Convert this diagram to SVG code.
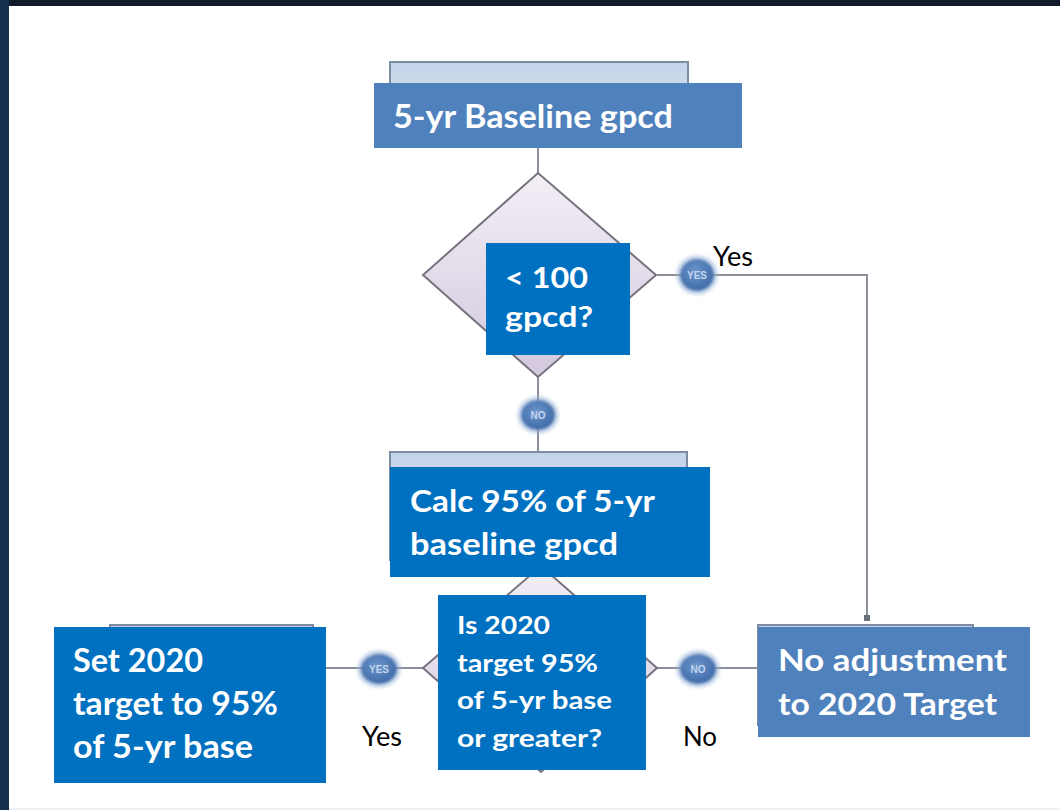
<svg xmlns="http://www.w3.org/2000/svg" width="1060" height="810" viewBox="0 0 1060 810">
<defs>
<linearGradient id="boxg" x1="0" y1="0" x2="0" y2="1"><stop offset="0" stop-color="#c4d3e8"/><stop offset="1" stop-color="#e4ebf5"/></linearGradient>
<linearGradient id="diag" x1="0" y1="0" x2="0" y2="1"><stop offset="0" stop-color="#f3eff6"/><stop offset="1" stop-color="#d3c8dd"/></linearGradient>
<radialGradient id="circg" cx="0.45" cy="0.4" r="0.6"><stop offset="0" stop-color="#6f97cc"/><stop offset="1" stop-color="#3b68a6"/></radialGradient>
<filter id="glow" x="-50%" y="-50%" width="200%" height="200%"><feGaussianBlur stdDeviation="1.5"/></filter>
<marker id="dot" markerWidth="6" markerHeight="6" refX="3" refY="3" markerUnits="userSpaceOnUse"><rect x="0" y="0" width="6" height="6" fill="#6a707a"/></marker>
</defs>
<style>
.frame{fill:#111a2a}
.bg{fill:#ffffff}
.obox{fill:url(#boxg);stroke:#7d8ca3;stroke-width:2}
.odia{fill:url(#diag);stroke:#76737f;stroke-width:2}
.conn{fill:none;stroke:#8a9099;stroke-width:2}
.halo{fill:#9fb8dc;opacity:0.5;filter:url(#glow)}
.circ{fill:url(#circg);filter:url(#glow)}
.ctext{font-family:"Liberation Sans",sans-serif;font-size:10px;font-weight:bold;fill:#c3d5ee;text-anchor:middle}
.lb{fill:#4f81bd}
.db{fill:#0070c0}
.t{font-family:Lato,"Open Sans",sans-serif;font-weight:bold;fill:#ffffff}
.lbl{font-family:Lato,"Open Sans",sans-serif;font-size:26px;fill:#000000}
</style>
<rect class="frame" x="0" y="0" width="1060" height="810"/>
<rect x="0" y="0" width="9" height="810" fill="#16304f"/>
<rect class="bg" x="9" y="6" width="1051" height="804"/>
<rect x="9" y="808" width="1051" height="2" fill="#eef1f5"/>

<g id="connectors">
<path class="conn" d="M538 146 V173"/>
<path class="conn" d="M657 275 H867 V618" marker-end="url(#dot)"/>
<path class="conn" d="M538 377 V452"/>
<path class="conn" d="M313 668 H423"/>
<path class="conn" d="M657 668 H758"/>
</g>

<g id="orig-box-a"><rect class="obox" x="390" y="62" width="298" height="84"/></g>
<g id="orig-box-b"><rect class="obox" x="390" y="452" width="297" height="108"/></g>
<g id="orig-box-c"><rect class="obox" x="110" y="625" width="203" height="100"/></g>
<g id="orig-box-d"><rect class="obox" x="758" y="625" width="215" height="100"/></g>
<g id="orig-diamond-1"><polygon class="odia" points="538,173 656,275 538,377 423,275"/></g>
<g id="orig-diamond-2"><polygon class="odia" points="541,566 657,668 541,772 423,668"/></g>

<g id="yes-circle-1"><ellipse class="halo" cx="697" cy="275" rx="21" ry="20"/><ellipse class="circ" cx="697" cy="275" rx="17" ry="16"/><text class="ctext" x="697" y="279">YES</text></g>
<g id="no-circle-1"><ellipse class="halo" cx="538" cy="415" rx="21" ry="19"/><ellipse class="circ" cx="538" cy="415" rx="17" ry="15"/><text class="ctext" x="538" y="419">NO</text></g>
<g id="yes-circle-2"><ellipse class="halo" cx="379" cy="669" rx="22" ry="19"/><ellipse class="circ" cx="379" cy="669" rx="18" ry="15"/><text class="ctext" x="379" y="673">YES</text></g>
<g id="no-circle-2"><ellipse class="halo" cx="698" cy="669" rx="22" ry="19"/><ellipse class="circ" cx="698" cy="669" rx="18" ry="15"/><text class="ctext" x="698" y="673">NO</text></g>

<g id="baseline">
<rect class="lb" x="374" y="83" width="368" height="65"/>
<text class="t" x="393" y="128" font-size="32" textLength="280" lengthAdjust="spacingAndGlyphs">5-yr Baseline gpcd</text>
</g>
<g id="lt100">
<rect class="db" x="486" y="243" width="144" height="112"/>
<text class="t" x="505" y="288" font-size="29" textLength="83" lengthAdjust="spacingAndGlyphs">&lt; 100</text>
<text class="t" x="505" y="327" font-size="29" textLength="88" lengthAdjust="spacingAndGlyphs">gpcd?</text>
</g>
<g id="calc95">
<rect class="db" x="390" y="467" width="320" height="110"/>
<text class="t" x="410" y="512" font-size="30" textLength="245" lengthAdjust="spacingAndGlyphs">Calc 95% of 5-yr</text>
<text class="t" x="410" y="555" font-size="30" textLength="208" lengthAdjust="spacingAndGlyphs">baseline gpcd</text>
</g>
<g id="is2020">
<rect class="db" x="438" y="595" width="208" height="175"/>
<text class="t" x="457" y="634" font-size="25" textLength="93" lengthAdjust="spacingAndGlyphs">Is 2020</text>
<text class="t" x="457" y="672" font-size="25" textLength="141" lengthAdjust="spacingAndGlyphs">target 95%</text>
<text class="t" x="457" y="709" font-size="25" textLength="155" lengthAdjust="spacingAndGlyphs">of 5-yr base</text>
<text class="t" x="457" y="747" font-size="25" textLength="145" lengthAdjust="spacingAndGlyphs">or greater?</text>
</g>
<g id="set2020">
<rect class="db" x="54" y="627" width="272" height="156"/>
<text class="t" x="73" y="672" font-size="32" textLength="130" lengthAdjust="spacingAndGlyphs">Set 2020</text>
<text class="t" x="73" y="715" font-size="32" textLength="205" lengthAdjust="spacingAndGlyphs">target to 95%</text>
<text class="t" x="73" y="758" font-size="32" textLength="180" lengthAdjust="spacingAndGlyphs">of 5-yr base</text>
</g>
<g id="noadjust">
<rect class="lb" x="758" y="627" width="272" height="110"/>
<text class="t" x="778" y="671" font-size="31" textLength="229" lengthAdjust="spacingAndGlyphs">No adjustment</text>
<text class="t" x="778" y="715" font-size="31" textLength="219" lengthAdjust="spacingAndGlyphs">to 2020 Target</text>
</g>

<g id="labels">
<text class="lbl" x="713" y="266" textLength="40" lengthAdjust="spacingAndGlyphs">Yes</text>
<text class="lbl" x="362" y="746" textLength="40" lengthAdjust="spacingAndGlyphs">Yes</text>
<text class="lbl" x="683" y="746" textLength="34" lengthAdjust="spacingAndGlyphs">No</text>
</g>
</svg>
